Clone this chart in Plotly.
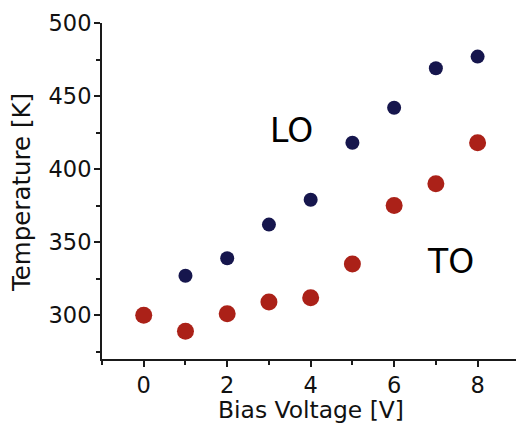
import plotly.graph_objects as go

# Bias voltage steps [V]
bias_lo = [1, 2, 3, 4, 5, 6, 7, 8]
bias_to = [0, 1, 2, 3, 4, 5, 6, 7, 8]

# Phonon temperatures [K]
temp_lo = [327, 339, 362, 379, 418, 442, 469, 477]
temp_to = [300, 289, 301, 309, 312, 335, 375, 390, 418]

x_ticks = [0, 2, 4, 6, 8]
y_ticks = [300, 350, 400, 450, 500]

FONT = "DejaVu Sans, Verdana, sans-serif"

fig = go.Figure()
fig.add_trace(go.Scatter(
    x=bias_to, y=temp_to, mode="markers", name="TO",
    marker=dict(size=17, color="#ab2118", line=dict(width=0)),
))
fig.add_trace(go.Scatter(
    x=bias_lo, y=temp_lo, mode="markers", name="LO",
    marker=dict(size=14, color="#16164d", line=dict(width=0)),
))

axis_common = dict(
    showline=True, linecolor="#1a1a1a", linewidth=2,
    ticks="outside", tickcolor="#1a1a1a", tickwidth=2, ticklen=6,
    showgrid=False, zeroline=False,
    tickfont=dict(family=FONT, size=22.5, color="#111111"),
)

fig.update_xaxes(
    range=[-1, 8.92], tickvals=x_ticks,
    minor=dict(dtick=1, tick0=0, ticks="outside", ticklen=4, tickwidth=2, tickcolor="#1a1a1a"),
    ticklabelstandoff=-1,
    **axis_common,
)
fig.update_yaxes(
    range=[270, 500], tickvals=y_ticks,
    minor=dict(dtick=25, tick0=0, ticks="outside", ticklen=4, tickwidth=2, tickcolor="#1a1a1a"),
    ticklabelstandoff=-2,
    **axis_common,
)

fig.add_annotation(
    text="Bias Voltage [V]", xref="x", yref="paper", x=4, y=-(410 - 359) / 336.3,
    showarrow=False, xanchor="center", yanchor="middle",
    font=dict(family=FONT, size=23.4, color="#111111"),
)
fig.add_annotation(
    text="Temperature [K]", xref="paper", yref="paper", x=-81 / 414, y=0.494,
    showarrow=False, textangle=-90, xanchor="center", yanchor="middle",
    font=dict(family=FONT, size=24.5, color="#111111"),
)
fig.add_annotation(
    text="LO", xref="paper", yref="paper", x=(291.7 - 102) / 414, y=(359 - 130) / 336.3,
    showarrow=False, xanchor="center", yanchor="middle",
    font=dict(family=FONT, size=33, color="#000000"),
)
fig.add_annotation(
    text="TO", xref="paper", yref="paper", x=(450 - 102) / 414, y=(359 - 261) / 336.3,
    showarrow=False, xanchor="center", yanchor="middle",
    font=dict(family=FONT, size=33, color="#000000"),
)

fig.update_layout(
    width=516, height=423,
    margin=dict(l=102, r=0, t=23, b=64),
    paper_bgcolor="white", plot_bgcolor="white",
    showlegend=False,
)

fig.write_html("out.html")
